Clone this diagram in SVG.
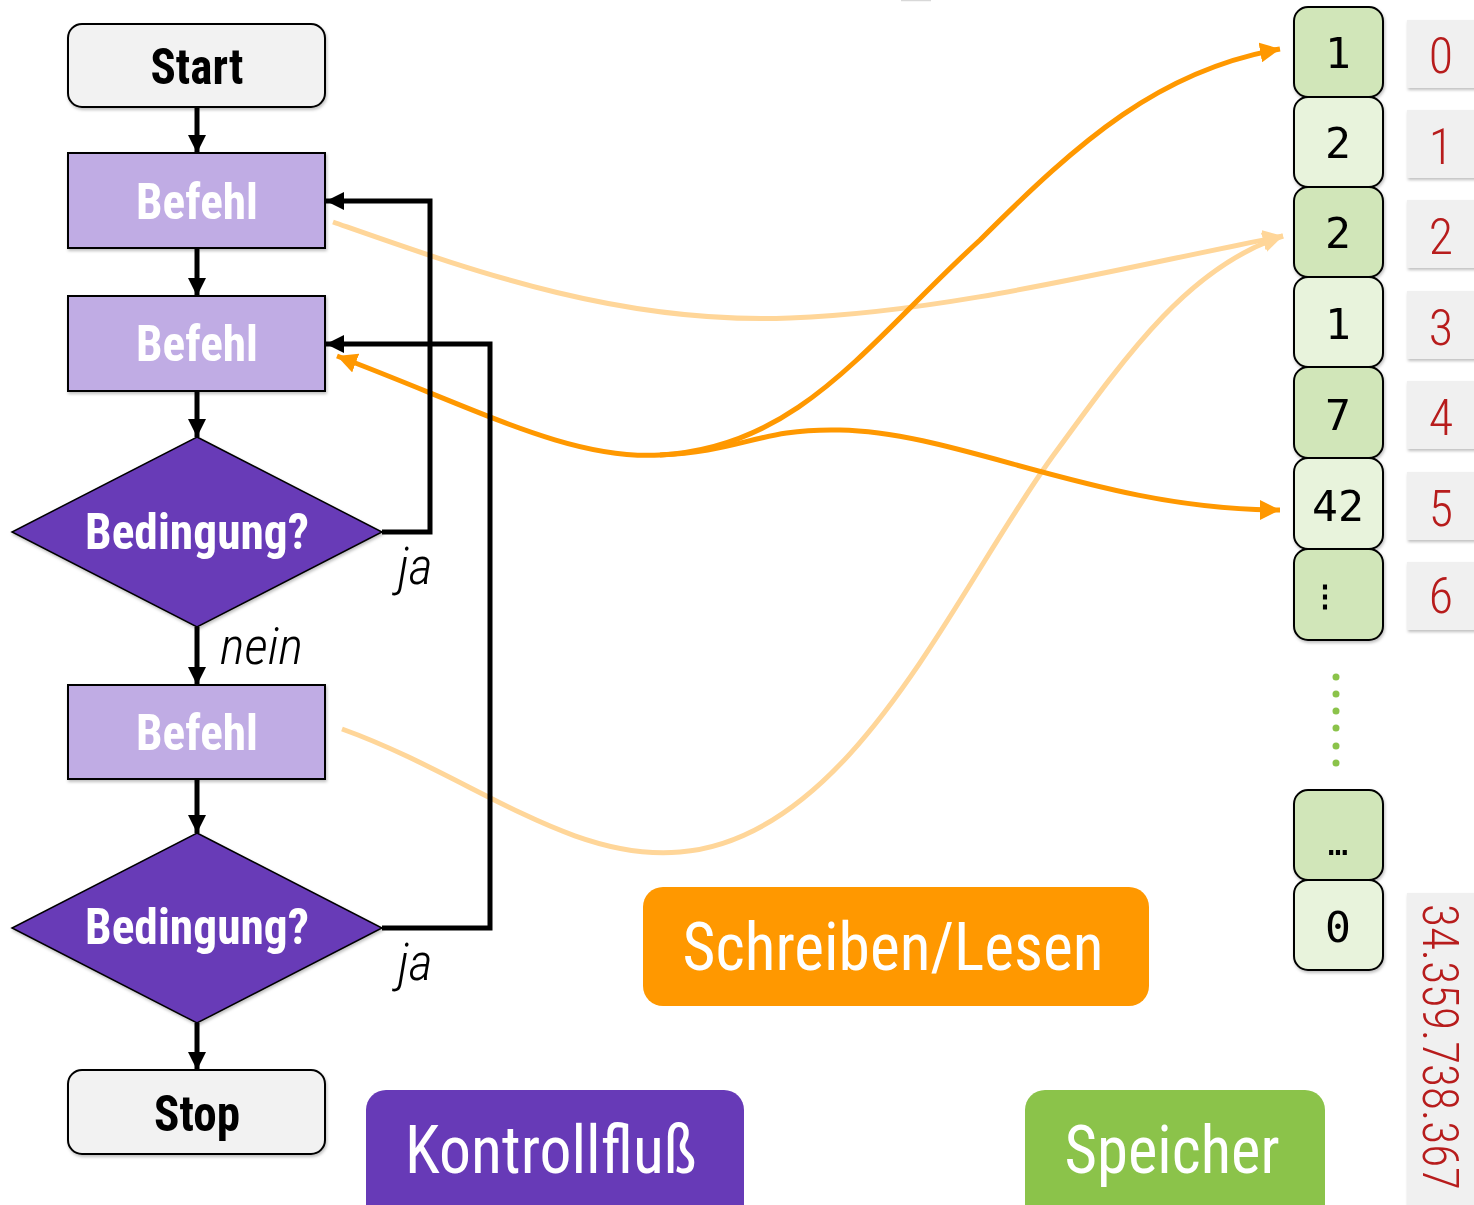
<svg xmlns="http://www.w3.org/2000/svg" width="1474" height="1205" viewBox="0 0 1474 1205">
  <style>
    .term { fill: #f2f2f2; stroke: #000; stroke-width: 2; }
    .cmd { fill: #c0ace4; stroke: #000; stroke-width: 2; }
    .cond { fill: #673ab7; stroke: #000; stroke-width: 1.5; }
    .lbl { font-family: "Roboto Condensed", Roboto, "Liberation Sans", sans-serif; font-weight: 700; font-size: 50px; text-anchor: middle; }
    .dark { fill: #000; }
    .white { fill: #fff; }
    .edge { font-family: "Roboto Condensed", Roboto, "Liberation Sans", sans-serif; font-weight: 300; font-style: italic; font-size: 52px; fill: #000; }
    .flow { fill: none; stroke: #000; stroke-width: 5; }
    .rw { fill: none; stroke: #ff9800; stroke-width: 5; }
    .rw-soft { fill: none; stroke: #ffd699; stroke-width: 5; }
    .cellA { fill: #d1e6b9; stroke: #000; stroke-width: 2; }
    .cellB { fill: #e8f3dc; stroke: #000; stroke-width: 2; }
    .val { font-family: "DejaVu Sans Mono", "Liberation Mono", monospace; font-size: 43px; fill: #000; text-anchor: middle; }
    .idxbox { fill: #f0f0f0; }
    .idx { font-family: "Roboto Condensed", Roboto, "Liberation Sans", sans-serif; font-weight: 300; font-size: 50px; fill: #b71c1c; text-anchor: middle; }
    .legend { font-family: "Roboto Condensed", Roboto, "Liberation Sans", sans-serif; font-weight: 400; font-size: 66px; fill: #fff; text-anchor: middle; }
  </style>
  <defs>
    <filter id="shadow" x="-10%" y="-10%" width="125%" height="130%">
      <feDropShadow dx="1" dy="2" stdDeviation="1.5" flood-color="#000" flood-opacity="0.25"/>
    </filter>
    <marker id="arrBlack" markerUnits="userSpaceOnUse" markerWidth="20" markerHeight="18" refX="18" refY="9" orient="auto">
      <path d="M0,0 L18,9 L0,18 Z" fill="#000"/>
    </marker>
    <marker id="arrOrange" markerUnits="userSpaceOnUse" markerWidth="22" markerHeight="20" refX="20" refY="10" orient="auto-start-reverse">
      <path d="M0,0 L20,10 L0,20 Z" fill="#ff9800"/>
    </marker>
    <marker id="arrSoft" markerUnits="userSpaceOnUse" markerWidth="22" markerHeight="20" refX="20" refY="10" orient="auto">
      <path d="M0,0 L20,10 L0,20 Z" fill="#ffd699"/>
    </marker>
  </defs>

  <rect width="1474" height="1205" fill="#fff"/>
  <line x1="901" y1="0.5" x2="931" y2="0.5" stroke="#d8d8d8" stroke-width="1.5"/>

  <!-- read/write curves between the program and memory -->
  <g id="memory-access">
    <path class="rw-soft" d="M333,222 C470,270 620,325 790,318 C950,312 1120,268 1283,236" marker-end="url(#arrSoft)"/>
    <path class="rw-soft" d="M342,729 C470,775 570,862 680,852 C850,838 950,600 1050,460 C1130,350 1190,266 1283,236" marker-end="url(#arrSoft)"/>
    <path class="rw" d="M337,356 C480,410 570,460 660,455 C800,448 870,340 980,240 C1080,140 1160,70 1280,49" marker-start="url(#arrOrange)" marker-end="url(#arrOrange)"/>
    <path class="rw" d="M660,455 C740,452 760,428 840,430 C960,432 1100,510 1280,510" marker-end="url(#arrOrange)"/>
  </g>

  <!-- control flow connectors -->
  <g id="connectors">
    <line class="flow" x1="197" y1="107" x2="197" y2="153" marker-end="url(#arrBlack)"/>
    <line class="flow" x1="197" y1="248" x2="197" y2="296" marker-end="url(#arrBlack)"/>
    <line class="flow" x1="197" y1="391" x2="197" y2="437" marker-end="url(#arrBlack)"/>
    <line class="flow" x1="197" y1="627" x2="197" y2="685" marker-end="url(#arrBlack)"/>
    <line class="flow" x1="197" y1="779" x2="197" y2="833" marker-end="url(#arrBlack)"/>
    <line class="flow" x1="197" y1="1023" x2="197" y2="1070" marker-end="url(#arrBlack)"/>
    <polyline class="flow" points="382,532 430,532 430,201 326,201" marker-end="url(#arrBlack)"/>
    <polyline class="flow" points="382,928 490,928 490,344 326,344" marker-end="url(#arrBlack)"/>
    <text class="edge" x="220" y="664" textLength="83" lengthAdjust="spacingAndGlyphs">nein</text>
    <text class="edge" x="398" y="584">ja</text>
    <text class="edge" x="398" y="980">ja</text>
  </g>

  <g id="start" filter="url(#shadow)">
    <rect class="term" x="68" y="24" width="257" height="83" rx="14"/>
    <text class="lbl dark" x="197" y="84" textLength="93" lengthAdjust="spacingAndGlyphs">Start</text>
  </g>
  <g id="befehl-1" filter="url(#shadow)">
    <rect class="cmd" x="68" y="153" width="257" height="95"/>
    <text class="lbl white" x="197" y="219" textLength="122" lengthAdjust="spacingAndGlyphs">Befehl</text>
  </g>
  <g id="befehl-2" filter="url(#shadow)">
    <rect class="cmd" x="68" y="296" width="257" height="95"/>
    <text class="lbl white" x="197" y="361" textLength="122" lengthAdjust="spacingAndGlyphs">Befehl</text>
  </g>
  <g id="bedingung-1" filter="url(#shadow)">
    <polygon class="cond" points="197,437 382,532 197,627 12,532"/>
    <text class="lbl white" x="197" y="549" textLength="224" lengthAdjust="spacingAndGlyphs">Bedingung?</text>
  </g>
  <g id="befehl-3" filter="url(#shadow)">
    <rect class="cmd" x="68" y="685" width="257" height="94"/>
    <text class="lbl white" x="197" y="750" textLength="122" lengthAdjust="spacingAndGlyphs">Befehl</text>
  </g>
  <g id="bedingung-2" filter="url(#shadow)">
    <polygon class="cond" points="197,833 382,928 197,1023 12,928"/>
    <text class="lbl white" x="197" y="944" textLength="224" lengthAdjust="spacingAndGlyphs">Bedingung?</text>
  </g>
  <g id="stop" filter="url(#shadow)">
    <rect class="term" x="68" y="1070" width="257" height="84" rx="14"/>
    <text class="lbl dark" x="197" y="1131" textLength="86" lengthAdjust="spacingAndGlyphs">Stop</text>
  </g>

  <!-- memory cells -->
  <g id="speicher-zellen">
    <g id="zelle-0" filter="url(#shadow)"><rect class="cellA" x="1294" y="7" width="89" height="90" rx="14"/><text class="val" x="1338" y="68">1</text></g>
    <g id="zelle-1" filter="url(#shadow)"><rect class="cellB" x="1294" y="97" width="89" height="90" rx="14"/><text class="val" x="1338" y="158">2</text></g>
    <g id="zelle-2" filter="url(#shadow)"><rect class="cellA" x="1294" y="187" width="89" height="90" rx="14"/><text class="val" x="1338" y="248">2</text></g>
    <g id="zelle-3" filter="url(#shadow)"><rect class="cellB" x="1294" y="277" width="89" height="90" rx="14"/><text class="val" x="1338" y="339">1</text></g>
    <g id="zelle-4" filter="url(#shadow)"><rect class="cellA" x="1294" y="367" width="89" height="91" rx="14"/><text class="val" x="1338" y="430">7</text></g>
    <g id="zelle-5" filter="url(#shadow)"><rect class="cellB" x="1294" y="458" width="89" height="91" rx="14"/><text class="val" x="1338" y="521">42</text></g>
    <g id="zelle-6" filter="url(#shadow)"><rect class="cellA" x="1294" y="549" width="89" height="91" rx="14"/><text class="val" x="1325" y="606" style="font-size:30px;font-weight:700">⋮</text></g>
    <g id="luecke" fill="#8bc34a">
      <circle cx="1336" cy="677" r="3.5"/><circle cx="1336" cy="694" r="3.5"/><circle cx="1336" cy="711" r="3.5"/>
      <circle cx="1336" cy="728" r="3.5"/><circle cx="1336" cy="746" r="3.5"/><circle cx="1336" cy="763" r="3.5"/>
    </g>
    <g id="zelle-n1" filter="url(#shadow)"><rect class="cellA" x="1294" y="790" width="89" height="90" rx="14"/><text class="val" x="1338" y="855" style="font-size:34px">…</text></g>
    <g id="zelle-n" filter="url(#shadow)"><rect class="cellB" x="1294" y="880" width="89" height="90" rx="14"/><text class="val" x="1338" y="942">0</text></g>
  </g>

  <!-- addresses -->
  <g id="adressen">
    <g filter="url(#shadow)">
      <rect class="idxbox" x="1407" y="20" width="70" height="68"/>
      <rect class="idxbox" x="1407" y="110" width="70" height="68"/>
      <rect class="idxbox" x="1407" y="200" width="70" height="68"/>
      <rect class="idxbox" x="1407" y="291" width="70" height="68"/>
      <rect class="idxbox" x="1407" y="381" width="70" height="68"/>
      <rect class="idxbox" x="1407" y="472" width="70" height="68"/>
      <rect class="idxbox" x="1407" y="562" width="70" height="68"/>
      <rect class="idxbox" x="1407" y="893" width="70" height="315"/>
    </g>
    <text class="idx" x="1441" y="73">0</text>
    <text class="idx" x="1441" y="164">1</text>
    <text class="idx" x="1441" y="254">2</text>
    <text class="idx" x="1441" y="345">3</text>
    <text class="idx" x="1441" y="435">4</text>
    <text class="idx" x="1441" y="526">5</text>
    <text class="idx" x="1441" y="613">6</text>
    <text class="idx" transform="translate(1423,1047) rotate(90)" x="0" y="0" textLength="286" lengthAdjust="spacingAndGlyphs">34.359.738.367</text>
  </g>

  <!-- legend -->
  <g id="legende-schreiben-lesen">
    <rect x="643" y="887" width="506" height="119" rx="20" fill="#ff9800"/>
    <text class="legend" x="893" y="970" textLength="421" lengthAdjust="spacingAndGlyphs">Schreiben/Lesen</text>
  </g>
  <g id="legende-kontrollfluss">
    <rect x="366" y="1090" width="378" height="135" rx="20" fill="#673ab7"/>
    <text class="legend" x="551" y="1173" textLength="292" lengthAdjust="spacingAndGlyphs">Kontrollfluß</text>
  </g>
  <g id="legende-speicher">
    <rect x="1025" y="1090" width="300" height="135" rx="20" fill="#8bc34a"/>
    <text class="legend" x="1172" y="1173" textLength="215" lengthAdjust="spacingAndGlyphs">Speicher</text>
  </g>
</svg>
